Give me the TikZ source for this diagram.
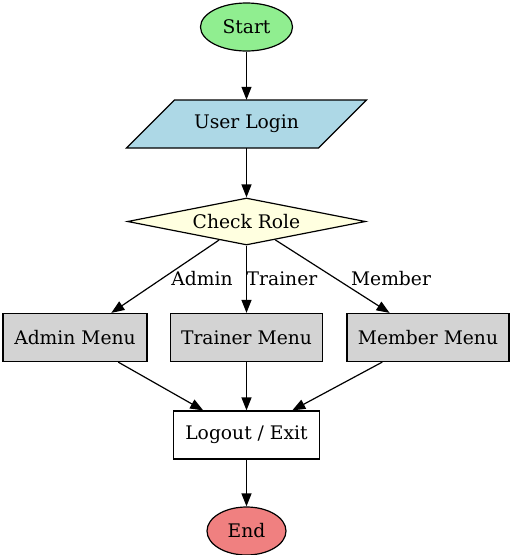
\documentclass[tikz,border=0pt]{standalone}
\usepackage{fontspec}
\setmainfont{DejaVu Serif}
\usetikzlibrary{shapes.geometric,arrows.meta}
\definecolor{cgreen}{HTML}{90EE90}
\definecolor{cblue}{HTML}{ADD8E6}
\definecolor{cyellow}{HTML}{FFFFE0}
\definecolor{cgray}{HTML}{D3D3D3}
\definecolor{ccoral}{HTML}{F08080}
\begin{document}
\begin{tikzpicture}[x=1pt,y=-1pt,
  every node/.style={font=\fontsize{18.7}{22}\selectfont, inner sep=0pt},
  shp/.style={draw=black, line width=1.2pt},
  oval/.style={shp, ellipse, minimum height=48pt},
  menubox/.style={shp, rectangle, fill=cgray, minimum height=48pt},
  conn/.style={line width=1.2pt, -{Triangle[length=13pt,width=10pt]}},
  lbl/.style={}
]
\useasboundingbox (0,0) rectangle (512,555);
\node[oval, fill=cgreen, minimum width=92pt] (start) at (246.5,27) {Start};
\coordinate (lc) at (246.5,124);
\draw[shp, fill=cblue] ([shift={(-72,-24)}]lc) -- ([shift={(120,-24)}]lc)
  -- ([shift={(72,24)}]lc) -- ([shift={(-120,24)}]lc) -- cycle;
\node[rectangle, minimum width=192pt, minimum height=48pt] (login) at (lc) {User Login};
\node[shp, diamond, aspect=6, fill=cyellow, minimum width=238pt, minimum height=47pt] (check) at (246.5,221.5) {Check Role};
\node[menubox, minimum width=144pt] (admin) at (75,337.5) {Admin Menu};
\node[menubox, minimum width=152pt] (trainer) at (246.5,337.5) {Trainer Menu};
\node[menubox, minimum width=162pt] (member) at (428,337.5) {Member Menu};
\node[shp, rectangle, fill=white, minimum width=146pt, minimum height=48pt] (logout) at (246.5,435) {Logout / Exit};
\node[oval, fill=ccoral, minimum width=79pt] (end) at (246.5,531) {End};

\draw[conn] (start) -- (login);
\draw[conn] (login) -- (check);
\draw[conn] (check) -- (admin);
\draw[conn] (check) -- (trainer);
\draw[conn] (check) -- (member);
\draw[conn] (admin) -- (logout);
\draw[conn] (trainer) -- (logout);
\draw[conn] (member) -- (logout);
\draw[conn] (logout) -- (end);

\node[lbl] (ladmin) at (202,279) {Admin};
\node[lbl] (ltrainer) at (282,279) {Trainer};
\node[lbl] (lmember) at (391,279) {Member};
\end{tikzpicture}
\end{document}
